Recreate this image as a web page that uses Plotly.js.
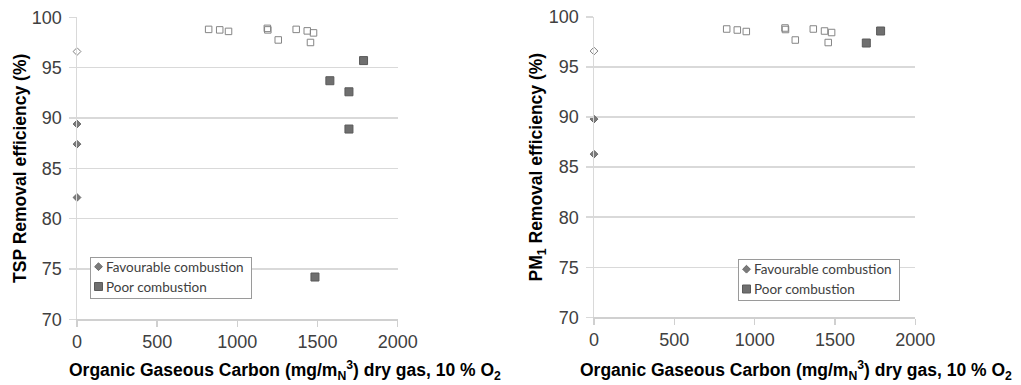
<!DOCTYPE html>
<html>
<head>
<meta charset="utf-8">
<script src="https://cdn.plot.ly/plotly-3.0.1.min.js"></script>
<style>html,body{margin:0;padding:0;background:#fff;}#chart{width:1021px;height:385px;}</style>
</head>
<body>
<div id="chart"></div>
<script>
// ---- Data: TSP (left panel) ----
const tspFavX = [0, 0, 0];
const tspFavY = [89.4, 87.4, 82.1];
const tspFavOpenX = [0];
const tspFavOpenY = [96.6];
const tspPoorX = [1577, 1787, 1696, 1696, 1484];
const tspPoorY = [93.7, 95.7, 92.6, 88.9, 74.2];
const tspPoorOpenX = [821, 890, 945, 1187, 1190, 1255, 1367, 1436, 1475, 1456];
const tspPoorOpenY = [98.8, 98.75, 98.6, 98.9, 98.75, 97.75, 98.8, 98.65, 98.45, 97.5];

// ---- Data: PM1 (right panel) ----
const pmFavX = [0, 0];
const pmFavY = [89.8, 86.3];
const pmFavOpenX = [0];
const pmFavOpenY = [96.6];
const pmPoorX = [1784, 1695];
const pmPoorY = [98.6, 97.4];
const pmPoorOpenX = [826, 892, 948, 1189, 1192, 1253, 1365, 1435, 1479, 1458];
const pmPoorOpenY = [98.8, 98.7, 98.55, 98.9, 98.75, 97.7, 98.8, 98.6, 98.45, 97.45];

const legendNames = ["Favourable combustion", "Poor combustion"];
const xTickVals = [0, 500, 1000, 1500, 2000];
const yTickVals = [70, 75, 80, 85, 90, 95, 100];
const xTitle = "Organic Gaseous Carbon (mg/m<sub>N</sub><sup>3</sup>) dry gas, 10 % O<sub>2</sub>";
const yTitleLeft = "TSP Removal efficiency (%)";
const yTitleRight = "PM<sub>1</sub> Removal efficiency (%)";

const favColor = '#7a7a7a';
const poorColor = '#6f6f6f';

function diamond(x, y, xa, ya, legend, show, open) {
  return {
    type: 'scatter', mode: 'markers', x: x, y: y, xaxis: xa, yaxis: ya,
    name: legendNames[0], legend: legend, showlegend: show, cliponaxis: false,
    marker: { symbol: 'diamond', size: 6,
      color: open ? '#ffffff' : favColor,
      line: { color: open ? '#808080' : '#6a6a6a', width: 1 } },
    hoverinfo: 'x+y'
  };
}
function square(x, y, xa, ya, legend, show, open) {
  return {
    type: 'scatter', mode: 'markers', x: x, y: y, xaxis: xa, yaxis: ya,
    name: legendNames[1], legend: legend, showlegend: show, cliponaxis: false,
    marker: { symbol: 'square', size: open ? 6.5 : 8,
      color: open ? 'rgba(255,255,255,0)' : poorColor,
      line: { color: open ? '#858585' : '#5a5a5a', width: 1 } },
    hoverinfo: 'x+y'
  };
}

const data = [
  diamond(tspFavX, tspFavY, 'x', 'y', 'legend', true, false),
  square(tspPoorX, tspPoorY, 'x', 'y', 'legend', true, false),
  diamond(tspFavOpenX, tspFavOpenY, 'x', 'y', 'legend', false, true),
  square(tspPoorOpenX, tspPoorOpenY, 'x', 'y', 'legend', false, true),
  diamond(pmFavX, pmFavY, 'x2', 'y2', 'legend2', true, false),
  square(pmPoorX, pmPoorY, 'x2', 'y2', 'legend2', true, false),
  diamond(pmFavOpenX, pmFavOpenY, 'x2', 'y2', 'legend2', false, true),
  square(pmPoorOpenX, pmPoorOpenY, 'x2', 'y2', 'legend2', false, true)
];

const tickFont = { family: 'Liberation Sans, Arial, sans-serif', size: 18, color: '#404040' };
const titleFont = { family: 'Liberation Sans, Arial, sans-serif', size: 17.5, color: '#000000', weight: 'bold' };

function xAxis(domain, anchor) {
  return {
    domain: domain, anchor: anchor, range: [0, 2000], tickvals: xTickVals,
    showgrid: false, zeroline: false, showline: true, linecolor: '#d0d0d0', linewidth: 1.5,
    ticks: 'outside', ticklen: 6, tickcolor: '#d0d0d0', tickwidth: 1.5,
    tickfont: tickFont, ticklabelstandoff: 0
  };
}
function yAxis(domain, anchor, title, standoff) {
  return {
    domain: domain, anchor: anchor, range: [70, 100], tickvals: yTickVals,
    showgrid: true, gridcolor: '#d9d9d9', gridwidth: 1.5, zeroline: false,
    showline: true, linecolor: '#d9d9d9', linewidth: 1.5,
    ticks: 'outside', ticklen: 7, tickcolor: '#d9d9d9', tickwidth: 1.5,
    tickfont: tickFont, ticklabelstandoff: 3,
    title: { text: title, font: titleFont, standoff: standoff }
  };
}

const legendBase = {
  xanchor: 'left', yanchor: 'top', bgcolor: '#ffffff',
  bordercolor: '#9a9a9a', borderwidth: 1,
  font: { family: 'Lato, Open Sans, sans-serif', size: 13.5, color: '#404040' },
  itemwidth: 30, tracegroupgap: 0
};

const layout = {
  width: 1021, height: 385,
  margin: { l: 0, r: 0, t: 0, b: 0 },
  paper_bgcolor: '#ffffff', plot_bgcolor: '#ffffff',
  showlegend: true,
  xaxis: xAxis([77 / 1021, 397.7 / 1021], 'y'),
  yaxis: yAxis([1 - 319.3 / 385, 1 - 17.3 / 385], 'x', yTitleLeft, 0),
  xaxis2: xAxis([594 / 1021, 915.3 / 1021], 'y2'),
  yaxis2: yAxis([1 - 317.3 / 385, 1 - 17 / 385], 'x2', yTitleRight, 1),
  legend: Object.assign({}, legendBase, { x: 89.5 / 1021, y: 1 - 256.5 / 385 }),
  legend2: Object.assign({}, legendBase, { x: 737.5 / 1021, y: 1 - 259 / 385 }),
  annotations: [
    { xref: 'paper', yref: 'paper', x: 284.5 / 1021, y: 1 - 370 / 385,
      xanchor: 'center', yanchor: 'middle', showarrow: false, text: xTitle, font: titleFont },
    { xref: 'paper', yref: 'paper', x: 796 / 1021, y: 1 - 370 / 385,
      xanchor: 'center', yanchor: 'middle', showarrow: false, text: xTitle, font: titleFont }
  ]
};

function compactLegends(gd) {
  // Compact the legend layout (narrow symbol column, Excel-like spacing)
  const rows = [10.2, 30.0];
  ['legend', 'legend2'].forEach(function (id) {
    const lg = gd.querySelector('g.infolayer > g.' + id);
    if (!lg) return;
    lg.querySelectorAll('g.traces').forEach(function (tr, i) {
      tr.setAttribute('transform', 'translate(1,' + rows[i] + ')');
      tr.querySelectorAll('text.legendtext, text.' + id + 'text').forEach(function (t) {
        t.setAttribute('x', 15.5);
      });
      tr.querySelectorAll('path.scatterpts').forEach(function (p) {
        p.setAttribute('transform', 'translate(8,0)');
      });
    });
    const bg = lg.querySelector('rect.bg');
    if (bg) { bg.setAttribute('width', 161); bg.setAttribute('height', 41); }
  });
}

Plotly.newPlot('chart', data, layout, { displayModeBar: false, staticPlot: true }).then(function (gd) {
  compactLegends(gd);
});
</script>
</body>
</html>
